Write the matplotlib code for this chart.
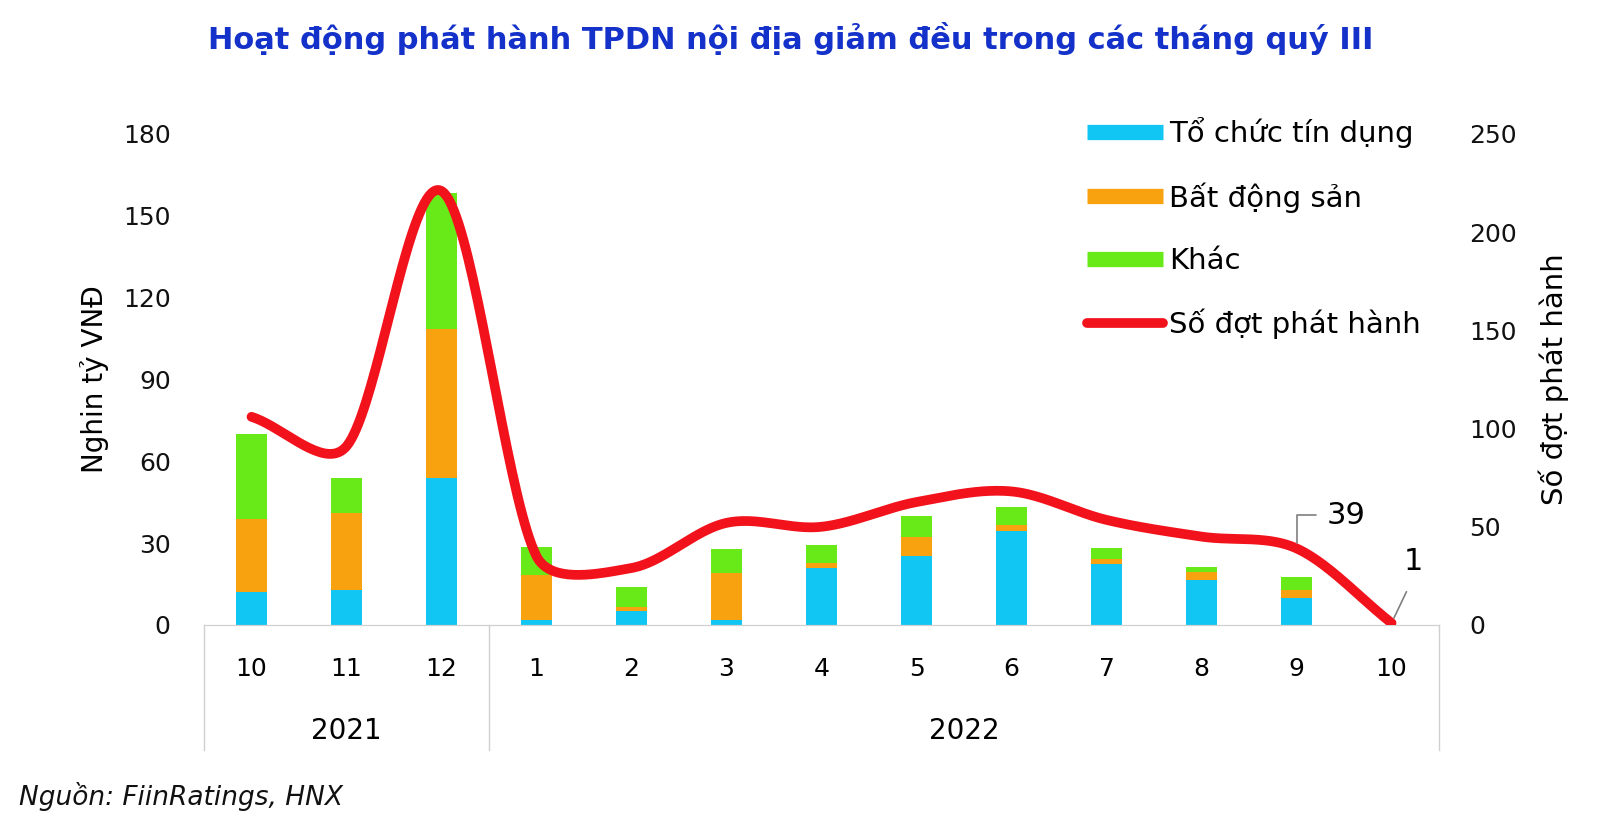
import matplotlib
matplotlib.use('Agg')
import matplotlib.pyplot as plt
from matplotlib.lines import Line2D
import numpy as np

plt.rcParams['font.family'] = ['DejaVu Sans']

months = ['10', '11', '12', '1', '2', '3', '4', '5', '6', '7', '8', '9', '10']
years = ['2021', '2022']
year_span = [(0, 2), (3, 12)]

to_chuc_tin_dung = [12, 13, 54, 2, 5, 2, 21, 25.3, 34.5, 22.4, 16.5, 10, 0]
bat_dong_san = [27, 28, 54.5, 16.5, 1.5, 17, 1.8, 7, 2.2, 1.8, 2.9, 3, 0]
khac = [31, 13, 50, 10, 7.5, 9, 6.6, 7.7, 6.6, 4, 1.9, 4.7, 0]
so_dot = [106, 91, 221, 35, 29, 52, 50, 62.6, 68, 53.5, 45, 39, 1]

colors = ['#12c6f4', '#f9a20f', '#68ea18']
line_color = '#f2121c'

AX_W = 0.7719 * 1600
AX_H = 0.5966 * 823


def smooth(x, y, kx, ky, n=40):
    # smoothed line like excel: catmull-rom arms, but never longer
    # than a third of the segment they sit on (pixel units)
    P = np.column_stack([np.asarray(x, float) * kx, np.asarray(y, float) * ky])
    m = len(P)
    tang = np.zeros_like(P)
    arm = np.zeros(m)
    for i in range(m):
        if i == 0:
            d = P[1] - P[0]
            arm[i] = np.linalg.norm(d) / 3
        elif i == m - 1:
            d = P[-1] - P[-2]
            arm[i] = np.linalg.norm(d) / 3
        else:
            d = P[i + 1] - P[i - 1]
            arm[i] = np.linalg.norm(d) / 6
        tang[i] = d / np.linalg.norm(d)
    t = np.linspace(0, 1, n)[:, None]
    pts = []
    for i in range(m - 1):
        p1, p2 = P[i], P[i + 1]
        seg = np.linalg.norm(p2 - p1) / 3
        c1 = p1 + tang[i] * min(arm[i], seg)
        c2 = p2 - tang[i + 1] * min(arm[i + 1], seg)
        b = (1 - t) ** 3 * p1 + 3 * (1 - t) ** 2 * t * c1 + 3 * (1 - t) * t ** 2 * c2 + t ** 3 * p2
        pts.append(b)
    pts = np.vstack(pts)
    return pts[:, 0] / kx, pts[:, 1] / ky


def main():
    fig = plt.figure(figsize=(16, 8.23), dpi=100)
    ax = fig.add_axes([0.1275, 0.2406, 0.7719, 0.5966])
    ax2 = ax.twinx()

    x = np.arange(len(months))
    blue = np.array(to_chuc_tin_dung)
    orange = np.array(bat_dong_san)
    green = np.array(khac)
    ax.bar(x, blue, width=0.32, color=colors[0], zorder=2)
    ax.bar(x, orange, width=0.32, bottom=blue, color=colors[1], zorder=2)
    ax.bar(x, green, width=0.32, bottom=blue + orange, color=colors[2], zorder=2)

    ax.set_xlim(-0.5, len(months) - 0.5)
    ax.set_ylim(0, 180)
    ax.set_yticks(range(0, 181, 30))
    ax2.set_ylim(0, 250)
    ax2.set_yticks(range(0, 251, 50))

    sx, sy = smooth(x, so_dot, AX_W / len(months), AX_H / 250)
    ax2.plot(sx, sy, color=line_color, lw=7, solid_capstyle='round', zorder=3)

    for a in (ax, ax2):
        for side in ['top', 'left', 'right']:
            a.spines[side].set_visible(False)
        a.spines['bottom'].set_color('#d0d0d0')
        a.tick_params(axis='both', length=0, labelsize=18, colors='#111111')
        a.set_xticks([])
    ax.tick_params(axis='y', pad=24)
    ax2.tick_params(axis='y', pad=22)

    ax.set_ylabel('Nghin tỷ VNĐ', fontsize=20, labelpad=10)
    ax2.set_ylabel('Số đợt phát hành', fontsize=21, labelpad=15)

    # two-level category axis
    trans = ax.get_xaxis_transform()
    for i, m in enumerate(months):
        ax.text(i, -0.09, m, transform=trans, ha='center', va='center', fontsize=18)
    for name, (a, b) in zip(years, year_span):
        ax.text((a + b) / 2, -0.216, name, transform=trans, ha='center', va='center', fontsize=20)
    for edge in [-0.5, 2.5, len(months) - 0.5]:
        ax.add_line(Line2D([edge, edge], [0, -0.255], transform=trans, color='#d0d0d0',
                           lw=1, clip_on=False))

    ax2.annotate('39', xy=(11, so_dot[11]), xytext=(22, 24), textcoords='offset points',
                 ha='left', va='center', fontsize=22,
                 arrowprops=dict(arrowstyle='-', color='#7f7f7f', lw=1.2, shrinkA=6, shrinkB=4,
                                 relpos=(0, 0.5),
                                 connectionstyle='angle,angleA=0,angleB=90,rad=0'))
    ax2.annotate('1', xy=(12, so_dot[12]), xytext=(16, 44), textcoords='offset points',
                 ha='center', va='center', fontsize=22,
                 arrowprops=dict(arrowstyle='-', color='#7f7f7f', lw=1.2, shrinkA=10, shrinkB=4,
                                 relpos=(0.5, 0)))

    handles = [Line2D([], [], color=colors[0], lw=11, solid_capstyle='butt'),
               Line2D([], [], color=colors[1], lw=11, solid_capstyle='butt'),
               Line2D([], [], color=colors[2], lw=11, solid_capstyle='butt'),
               Line2D([], [], color=line_color, lw=7, solid_capstyle='round')]
    labels = ['Tổ chức tín dụng', 'Bất động sản', 'Khác', 'Số đợt phát hành']
    fig.legend(handles, labels, loc='upper left', bbox_to_anchor=(1087 / 1600, 1 - 117 / 823),
               frameon=False, fontsize=21, handlelength=2.6, handletextpad=0.2,
               labelspacing=1.17, borderpad=0, borderaxespad=0)

    fig.text(0.494, 0.953, 'Hoạt động phát hành TPDN nội địa giảm đều trong các tháng quý III',
             ha='center', va='center', fontsize=22, fontweight='bold', color='#1431c9')
    fig.text(0.012, 0.015, 'Nguồn: FiinRatings, HNX', ha='left', va='bottom',
             fontsize=19, style='italic', color='#111111')

    fig.savefig('out.png', dpi=100)


if __name__ == "__main__":
    main()
